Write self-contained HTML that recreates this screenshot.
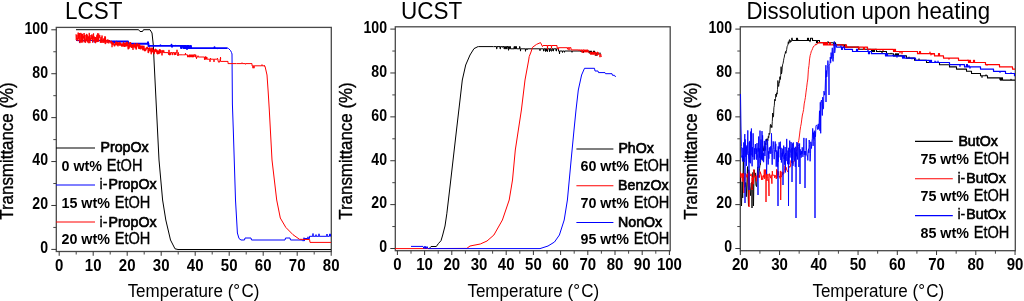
<!DOCTYPE html><html><head><meta charset="utf-8"><style>html,body{margin:0;padding:0;background:#fff;overflow:hidden}svg{display:block;will-change:transform}</style></head><body><svg xmlns="http://www.w3.org/2000/svg" width="1024" height="301" viewBox="0 0 1024 301">
<rect width="1024" height="301" fill="#fff"/>
<rect x="56.3" y="27.4" width="275.0" height="224.1" fill="none" stroke="#484848" stroke-width="1.3"/>
<line x1="51.3" y1="249.4" x2="56.3" y2="249.4" stroke="#333" stroke-width="1"/>
<text transform="translate(48.00,253.20) scale(0.94,1.07)" text-anchor="end" font-size="15" font-weight="bold" font-family="Liberation Sans, sans-serif">0</text>
<line x1="51.3" y1="205.48000000000002" x2="56.3" y2="205.48000000000002" stroke="#333" stroke-width="1"/>
<text transform="translate(48.00,209.28) scale(0.94,1.07)" text-anchor="end" font-size="15" font-weight="bold" font-family="Liberation Sans, sans-serif">20</text>
<line x1="51.3" y1="161.56" x2="56.3" y2="161.56" stroke="#333" stroke-width="1"/>
<text transform="translate(48.00,165.36) scale(0.94,1.07)" text-anchor="end" font-size="15" font-weight="bold" font-family="Liberation Sans, sans-serif">40</text>
<line x1="51.3" y1="117.63999999999999" x2="56.3" y2="117.63999999999999" stroke="#333" stroke-width="1"/>
<text transform="translate(48.00,121.44) scale(0.94,1.07)" text-anchor="end" font-size="15" font-weight="bold" font-family="Liberation Sans, sans-serif">60</text>
<line x1="51.3" y1="73.72" x2="56.3" y2="73.72" stroke="#333" stroke-width="1"/>
<text transform="translate(48.00,77.52) scale(0.94,1.07)" text-anchor="end" font-size="15" font-weight="bold" font-family="Liberation Sans, sans-serif">80</text>
<line x1="51.3" y1="29.799999999999983" x2="56.3" y2="29.799999999999983" stroke="#333" stroke-width="1"/>
<text transform="translate(48.00,33.60) scale(0.94,1.07)" text-anchor="end" font-size="15" font-weight="bold" font-family="Liberation Sans, sans-serif">100</text>
<line x1="53.3" y1="227.44" x2="56.3" y2="227.44" stroke="#444" stroke-width="1"/>
<line x1="53.3" y1="183.51999999999998" x2="56.3" y2="183.51999999999998" stroke="#444" stroke-width="1"/>
<line x1="53.3" y1="139.6" x2="56.3" y2="139.6" stroke="#444" stroke-width="1"/>
<line x1="53.3" y1="95.68" x2="56.3" y2="95.68" stroke="#444" stroke-width="1"/>
<line x1="53.3" y1="51.75999999999999" x2="56.3" y2="51.75999999999999" stroke="#444" stroke-width="1"/>
<line x1="59.20" y1="251.5" x2="59.20" y2="255.8" stroke="#333" stroke-width="1"/>
<text transform="translate(59.20,270.50) scale(1.0,1.07)" text-anchor="middle" font-size="15" font-weight="bold" font-family="Liberation Sans, sans-serif">0</text>
<line x1="93.20" y1="251.5" x2="93.20" y2="255.8" stroke="#333" stroke-width="1"/>
<text transform="translate(93.20,270.50) scale(1.0,1.07)" text-anchor="middle" font-size="15" font-weight="bold" font-family="Liberation Sans, sans-serif">10</text>
<line x1="127.20" y1="251.5" x2="127.20" y2="255.8" stroke="#333" stroke-width="1"/>
<text transform="translate(127.20,270.50) scale(1.0,1.07)" text-anchor="middle" font-size="15" font-weight="bold" font-family="Liberation Sans, sans-serif">20</text>
<line x1="161.20" y1="251.5" x2="161.20" y2="255.8" stroke="#333" stroke-width="1"/>
<text transform="translate(161.20,270.50) scale(1.0,1.07)" text-anchor="middle" font-size="15" font-weight="bold" font-family="Liberation Sans, sans-serif">30</text>
<line x1="195.20" y1="251.5" x2="195.20" y2="255.8" stroke="#333" stroke-width="1"/>
<text transform="translate(195.20,270.50) scale(1.0,1.07)" text-anchor="middle" font-size="15" font-weight="bold" font-family="Liberation Sans, sans-serif">40</text>
<line x1="229.20" y1="251.5" x2="229.20" y2="255.8" stroke="#333" stroke-width="1"/>
<text transform="translate(229.20,270.50) scale(1.0,1.07)" text-anchor="middle" font-size="15" font-weight="bold" font-family="Liberation Sans, sans-serif">50</text>
<line x1="263.20" y1="251.5" x2="263.20" y2="255.8" stroke="#333" stroke-width="1"/>
<text transform="translate(263.20,270.50) scale(1.0,1.07)" text-anchor="middle" font-size="15" font-weight="bold" font-family="Liberation Sans, sans-serif">60</text>
<line x1="297.20" y1="251.5" x2="297.20" y2="255.8" stroke="#333" stroke-width="1"/>
<text transform="translate(297.20,270.50) scale(1.0,1.07)" text-anchor="middle" font-size="15" font-weight="bold" font-family="Liberation Sans, sans-serif">70</text>
<line x1="331.20" y1="251.5" x2="331.20" y2="255.8" stroke="#333" stroke-width="1"/>
<text transform="translate(331.20,270.50) scale(1.0,1.07)" text-anchor="middle" font-size="15" font-weight="bold" font-family="Liberation Sans, sans-serif">80</text>
<line x1="76.20" y1="251.5" x2="76.20" y2="254.5" stroke="#444" stroke-width="1"/>
<line x1="110.20" y1="251.5" x2="110.20" y2="254.5" stroke="#444" stroke-width="1"/>
<line x1="144.20" y1="251.5" x2="144.20" y2="254.5" stroke="#444" stroke-width="1"/>
<line x1="178.20" y1="251.5" x2="178.20" y2="254.5" stroke="#444" stroke-width="1"/>
<line x1="212.20" y1="251.5" x2="212.20" y2="254.5" stroke="#444" stroke-width="1"/>
<line x1="246.20" y1="251.5" x2="246.20" y2="254.5" stroke="#444" stroke-width="1"/>
<line x1="280.20" y1="251.5" x2="280.20" y2="254.5" stroke="#444" stroke-width="1"/>
<line x1="314.20" y1="251.5" x2="314.20" y2="254.5" stroke="#444" stroke-width="1"/>
<g clip-path="url(#c1)">
<path d="M76.0,29.7 L138.6,29.7 L140.0,31.5 L142.5,31.5 L143.5,29.7 L150.0,29.7 L152.0,33.0 L153.3,45.0 L154.0,60.0 L159.0,160.0 L162.6,200.0 L165.8,220.0 L170.5,240.0 L175.0,248.8 L178.0,249.5 L331.0,249.5" fill="none" stroke="#000" stroke-width="1.0" stroke-linejoin="round" />
<path d="M76.0,40.5 L79.3,40.5 L79.5,42.4 L79.7,40.5 L82.8,40.5 L83.0,40.8 L83.2,40.5 L84.8,40.5 L85.0,41.8 L85.2,40.5 L93.8,40.5 L94.0,42.1 L94.2,40.5 L97.3,40.5 L97.5,41.6 L97.7,40.5 L100.3,40.5 L100.5,41.7 L100.7,40.5 L100.8,40.5 L101.0,40.7 L101.2,40.5 L107.8,40.5 L108.0,42.5 L108.2,40.5 L110.0,40.5" fill="none" stroke="#0000ff" stroke-width="1.1" stroke-linejoin="round" />
<path d="M110.0,41.5 L113.8,41.5 L114.0,42.9 L114.2,41.5 L116.3,41.5 L116.5,41.3 L116.7,41.5 L128.0,41.5 L128.0,43.7 L147.8,43.7 L148.0,42.2 L148.2,43.7 L148.5,43.7 L148.5,45.9 L148.8,45.9 L149.0,46.3 L149.2,45.9 L160.3,45.9 L160.5,45.3 L160.7,45.9 L171.3,45.9 L171.5,44.8 L171.7,45.9 L171.8,45.9 L172.0,46.8 L172.2,45.9 L175.3,45.9 L175.5,45.8 L175.7,45.9 L181.0,45.9 L181.0,48.1 L181.5,48.1 L181.5,45.9 L183.5,45.9 L183.5,48.1 L184.0,48.1 L184.0,45.9 L185.0,45.9 L185.0,48.1 L185.5,48.1 L185.5,45.9 L186.0,45.9 L186.0,48.1 L186.8,48.1 L187.0,49.0 L187.2,48.1 L187.0,48.1 L187.0,45.9 L188.0,45.9 L188.0,48.1 L188.5,48.1 L188.5,45.9 L189.0,45.9 L189.0,48.1 L190.5,48.1 L190.5,45.9 L191.0,45.9 L191.0,48.1 L214.3,48.1 L214.5,47.2 L214.7,48.1 L217.3,48.1 L217.5,48.2 L217.7,48.1 L227.5,48.1" fill="none" stroke="#0000ff" stroke-width="1.9" stroke-linejoin="round" />
<path d="M227.5,48.1 L228.5,48.5 L230.5,50.5 L231.5,52.5 L232.0,54.0 L232.4,104.0 L233.3,130.0 L235.5,200.0 L237.4,233.0 L239.0,238.5 L241.0,240.0 L244.5,240.0 L245.0,238.0 L251.0,238.0 L251.5,240.0 L285.0,240.0 L285.5,238.0 L290.0,238.0 L290.5,240.0 L302.0,240.0 L302.5,240.7 L303.8,240.7 L304.0,237.7 L304.2,240.7 L304.5,240.7 L304.5,238.5 L307.8,238.5 L308.0,236.8 L308.2,238.5 L309.5,238.5 L309.5,236.3 L312.8,236.3 L313.0,233.5 L313.2,236.3 L315.8,236.3 L316.0,234.6 L316.2,236.3 L318.8,236.3 L319.0,233.8 L319.2,236.3 L326.8,236.3 L327.0,234.0 L327.2,236.3 L329.5,236.3 L329.5,234.1 L330.5,234.1 L330.5,236.3 L331.0,236.3" fill="none" stroke="#0000ff" stroke-width="1.0" stroke-linejoin="round" />
<path d="M76.0,34.2 L76.2,39.8 L76.4,39.2 L76.7,37.6 L76.9,34.8 L77.1,40.9 L77.3,41.1 L77.5,37.9 L77.8,37.9 L78.0,35.0 L78.2,32.6 L78.4,36.5 L78.6,38.7 L78.9,33.3 L79.1,40.9 L79.3,35.0 L79.5,35.0 L79.7,33.0 L80.0,43.1 L80.2,40.4 L80.4,41.8 L80.6,39.1 L80.8,32.9 L81.1,36.0 L81.3,37.8 L81.5,33.8 L81.7,42.6 L81.9,36.5 L82.2,34.2 L82.4,41.2 L82.6,33.9 L82.8,42.4 L83.0,37.4 L83.3,38.4 L83.5,36.2 L83.7,37.7 L83.9,34.6 L84.1,33.0 L84.4,41.8 L84.6,35.1 L84.8,40.9 L85.0,34.8 L85.2,42.9 L85.5,42.1 L85.7,40.6 L85.9,40.7 L86.1,38.7 L86.3,40.3 L86.6,33.9 L86.8,37.6 L87.0,41.4 L87.2,34.7 L87.4,42.4 L87.7,42.0 L87.9,36.9 L88.1,36.5 L88.3,37.4 L88.5,36.7 L88.8,43.2 L89.0,36.7 L89.2,32.9 L89.4,33.6 L89.6,40.2 L89.9,43.1 L90.1,37.9 L90.3,37.8 L90.5,38.5 L90.7,40.6 L91.0,35.0 L91.2,39.1 L91.4,38.5 L91.6,39.2 L91.8,34.6 L92.1,34.4 L92.3,36.3 L92.5,42.5 L92.7,36.3 L92.9,39.0 L93.2,35.9 L93.4,33.8 L93.6,33.4 L93.8,41.3 L94.0,40.9 L94.3,36.6 L94.5,39.9 L94.7,39.8 L94.9,42.2 L95.1,42.8 L95.4,37.0 L95.6,43.2 L95.8,42.9 L96.0,38.9 L96.2,42.0 L96.5,37.9 L96.7,36.7 L96.9,35.3 L97.1,42.0 L97.3,34.4 L97.6,33.4 L97.8,41.2 L98.0,40.9 L98.2,37.9 L98.4,41.7 L98.7,33.5 L98.9,35.7 L99.1,36.7 L99.3,37.8 L99.5,35.9 L99.8,35.1 L100.0,37.4 L100.2,41.9 L100.4,42.7 L100.6,40.8 L100.9,38.8 L101.1,37.0 L101.3,42.8 L101.5,39.4 L101.7,41.1 L102.0,35.5 L102.2,37.1 L102.4,42.2 L102.6,41.9 L102.8,42.7 L103.1,40.5 L103.3,39.2 L103.5,40.5 L103.7,42.7 L103.9,38.4 L104.2,40.3 L104.4,38.4 L104.6,42.4 L104.8,36.4 L105.0,41.9 L105.3,44.1 L105.5,36.7 L105.7,41.4 L105.9,41.9 L106.1,42.3 L106.4,41.3 L106.6,39.9 L106.8,40.6 L107.0,43.2 L107.2,43.0 L107.5,39.7 L107.7,39.6 L107.9,39.7 L108.1,39.5 L108.3,41.4 L108.6,40.1 L108.8,43.4 L109.0,42.6 L109.2,40.3 L109.4,42.2 L109.7,41.3 L109.9,42.2 L110.1,41.1 L110.3,40.9 L110.5,41.1 L110.8,42.0 L111.0,43.5 L111.2,42.9 L111.4,40.8 L111.6,43.8 L111.9,44.6" fill="none" stroke="#ff0000" stroke-width="1.0" stroke-linejoin="round" />
<path d="M112.0,47.3 L112.2,42.4 L112.5,44.5 L112.8,43.7 L113.0,42.8 L113.2,43.3 L113.5,43.4 L113.8,44.0 L114.0,44.8 L114.2,45.7 L114.5,44.5 L114.8,45.9 L115.0,44.9 L115.2,44.4 L115.5,43.9 L115.8,42.8 L116.0,41.9 L116.2,44.2 L116.5,44.1 L116.8,44.8 L117.0,44.9 L117.2,42.5 L117.5,43.3 L117.8,42.8 L118.0,45.9 L118.2,44.3 L118.5,44.7 L118.8,43.2 L119.0,42.6 L119.2,43.7 L119.5,44.4 L119.8,45.3 L120.0,42.4 L120.2,45.1 L120.5,43.4 L120.8,43.9 L121.0,44.2 L121.2,44.1 L121.5,45.4 L121.8,46.1 L122.0,45.3 L122.2,44.0 L122.5,45.4 L122.8,45.4 L123.0,46.1 L123.2,45.3 L123.5,42.5 L123.8,43.8 L124.0,44.4 L124.2,46.3 L124.5,44.8 L124.8,46.4 L125.0,45.5 L125.2,43.3 L125.5,45.2 L125.8,45.9 L126.0,45.7 L126.2,43.0 L126.5,45.8 L126.8,44.3 L127.0,42.3 L127.2,44.4 L127.5,42.4 L127.8,43.4 L128.0,47.4 L128.2,48.9 L128.5,46.9 L128.8,46.0 L129.0,48.2 L129.2,45.9 L129.5,44.0 L129.8,42.6 L130.0,46.8 L130.2,42.6 L130.5,42.7 L130.8,44.6 L131.0,45.7 L131.2,44.4 L131.5,47.3 L131.8,45.6 L132.0,46.1 L132.2,46.5 L132.5,45.0 L132.8,46.2 L133.0,49.4 L133.2,44.6 L133.5,46.2 L133.8,46.8 L134.0,45.3 L134.2,46.0 L134.5,43.6 L134.8,45.5 L135.0,46.3 L135.2,47.9 L135.5,47.7 L135.8,45.5 L136.0,44.7 L136.2,49.1 L136.5,47.8 L136.8,43.6 L137.0,46.0 L137.2,45.2 L137.5,45.7 L137.8,44.0 L138.0,46.0 L138.2,45.9 L138.5,46.4 L138.8,48.3 L139.0,47.1 L139.2,45.0 L139.5,44.3 L139.8,46.1 L140.0,48.6 L140.2,48.4 L140.5,46.2 L140.8,48.9 L141.0,47.9 L141.2,46.4 L141.5,48.0 L141.8,47.3 L142.0,45.9 L142.2,47.0 L142.5,47.9 L142.8,49.7 L143.0,46.3 L143.2,48.3 L143.5,48.0 L143.8,48.0 L144.0,46.3 L144.2,50.1 L144.5,50.2 L144.8,50.8 L145.0,49.2 L145.2,50.7 L145.5,49.4 L145.8,50.2 L146.0,48.3 L146.2,49.2 L146.5,48.4 L146.8,47.4 L147.0,48.4 L147.2,47.4 L147.5,47.5 L147.8,48.7 L148.0,48.5 L148.2,52.5 L148.5,52.2 L148.8,51.2 L149.0,50.9 L149.2,48.4 L149.5,50.2 L149.8,47.7 L150.0,49.0 L150.2,49.3 L150.5,49.5 L150.8,51.4 L151.0,48.9 L151.2,53.7 L151.5,49.4 L151.8,51.5 L152.0,47.9 L152.2,51.7 L152.5,48.5 L152.8,50.7 L153.0,50.4 L153.2,51.7 L153.5,51.4 L153.8,51.1 L154.0,50.3 L154.2,53.6 L154.5,49.9 L154.8,50.7 L155.0,50.0 L155.2,51.0 L155.5,49.3 L155.8,50.2 L156.0,51.6 L156.2,50.0 L156.5,51.6 L156.8,50.1 L157.0,53.2 L157.2,50.9 L157.5,53.7 L157.8,51.9 L158.0,51.0 L158.2,52.6 L158.5,53.0 L158.8,53.6 L159.0,53.4 L159.2,52.7 L159.5,49.6 L159.8,52.8 L160.0,51.3" fill="none" stroke="#ff0000" stroke-width="1.4" stroke-linejoin="round" />
<path d="M160.0,51.3 L160.0,52.6 L160.3,52.6 L160.5,49.7 L160.7,52.6 L160.8,52.6 L161.0,50.3 L161.2,52.6 L161.8,52.6 L162.0,55.4 L162.2,52.6 L162.0,52.6 L162.0,50.4 L162.5,50.4 L162.5,52.6 L163.5,52.6 L163.5,50.4 L164.0,50.4 L164.0,52.6 L168.3,52.6 L168.5,54.6 L168.7,52.6 L168.8,52.6 L169.0,49.9 L169.2,52.6 L169.3,52.6 L169.5,55.2 L169.7,52.6 L170.5,52.6 L170.5,54.8 L171.0,54.8 L171.0,52.6 L172.5,52.6 L172.5,54.8 L173.0,54.8 L173.0,52.6 L174.5,52.6 L174.5,54.8 L175.0,54.8 L175.0,52.6 L175.3,52.6 L175.5,55.0 L175.7,52.6 L176.8,52.6 L177.0,49.8 L177.2,52.6 L177.0,52.6 L177.0,54.8 L177.8,54.8 L178.0,56.0 L178.2,54.8 L178.0,54.8 L178.0,52.6 L178.5,52.6 L178.5,54.8 L182.8,54.8 L183.0,54.8 L183.2,54.8 L185.3,54.8 L185.5,53.1 L185.7,54.8 L187.5,54.8 L187.5,57.0 L188.3,57.0 L188.5,56.3 L188.7,57.0 L188.8,57.0 L189.0,55.2 L189.2,57.0 L189.0,57.0 L189.0,54.8 L189.5,54.8 L189.5,57.0 L190.3,57.0 L190.5,55.4 L190.7,57.0 L190.5,57.0 L190.5,54.8 L190.8,54.8 L191.0,55.8 L191.2,54.8 L191.5,54.8 L191.5,57.0 L191.8,57.0 L192.0,57.0 L192.2,57.0 L192.3,57.0 L192.5,56.9 L192.7,57.0 L192.5,57.0 L192.5,54.8 L193.5,54.8 L193.5,57.0 L194.0,57.0 L194.0,54.8 L195.0,54.8 L195.0,57.0 L195.5,57.0 L195.5,54.8 L196.0,54.8 L196.0,57.0 L196.3,57.0 L196.5,58.8 L196.7,57.0 L197.8,57.0 L198.0,55.7 L198.2,57.0 L204.3,57.0 L204.5,59.7 L204.7,57.0 L205.0,57.0 L205.0,59.2 L205.3,59.2 L205.5,56.6 L205.7,59.2 L205.5,59.2 L205.5,57.0 L206.0,57.0 L206.0,59.2 L206.5,59.2 L206.5,57.0 L207.0,57.0 L207.0,59.2 L209.8,59.2 L210.0,61.8 L210.2,59.2 L210.3,59.2 L210.5,58.1 L210.7,59.2 L213.8,59.2 L214.0,61.9 L214.2,59.2 L217.3,59.2 L217.5,58.2 L217.7,59.2 L218.0,59.2 L218.0,61.4 L218.8,61.4 L219.0,62.5 L219.2,61.4 L220.0,61.4 L220.0,59.2 L220.3,59.2 L220.5,57.1 L220.7,59.2 L220.5,59.2 L220.5,61.4 L228.0,61.4 L228.0,63.6 L236.3,63.6 L236.5,63.6 L236.7,63.6 L241.8,63.6 L242.0,62.7 L242.2,63.6 L245.3,63.6 L245.5,64.3 L245.7,63.6 L252.0,63.6 L252.0,65.8 L252.8,65.8 L253.0,68.2 L253.2,65.8 L253.8,65.8 L254.0,68.2 L254.2,65.8 L261.8,65.8 L262.0,64.6 L262.2,65.8 L264.3,65.8 L264.5,65.7 L264.7,65.8 L264.0,65.8 L265.0,66.2 L267.0,75.0 L268.2,92.0 L269.3,110.0 L272.0,160.0 L276.7,200.0 L280.3,218.0 L285.8,227.4 L293.0,234.7 L299.5,239.3 L309.6,239.5 L310.0,242.4 L331.0,242.4" fill="none" stroke="#ff0000" stroke-width="1.0" stroke-linejoin="round" />
</g>
<line x1="56" y1="148.0" x2="95" y2="148.0" stroke="#000" stroke-width="1.15"/>
<text transform="translate(100.50,152.00) scale(1.0,1.07)" font-size="14.2" stroke="#000" stroke-width="0.65" font-family="Liberation Sans, sans-serif">PropOx</text>
<text transform="translate(61.5,171.3) scale(1,1.07)" font-size="14.3" font-family="Liberation Sans, sans-serif"><tspan font-weight="bold">0 wt%</tspan><tspan dx="0.7" font-size="14.6" stroke="#000" stroke-width="0.3"> EtOH</tspan></text>
<line x1="56" y1="185.0" x2="95" y2="185.0" stroke="#0000ff" stroke-width="1.15"/>
<text transform="translate(99.5,189.3) scale(1,1.07)" font-size="14.2" stroke="#000" stroke-width="0.65" font-family="Liberation Sans, sans-serif"><tspan font-size="14.3" stroke-width="0.35">i-</tspan><tspan dx="1.0">PropOx</tspan></text>
<text transform="translate(61.5,207.5) scale(1,1.07)" font-size="14.3" font-family="Liberation Sans, sans-serif"><tspan font-weight="bold">15 wt%</tspan><tspan dx="0.7" font-size="14.6" stroke="#000" stroke-width="0.3"> EtOH</tspan></text>
<line x1="56" y1="222" x2="95" y2="222" stroke="#ff0000" stroke-width="1.15"/>
<text transform="translate(99.5,226.9) scale(1,1.07)" font-size="14.2" stroke="#000" stroke-width="0.65" font-family="Liberation Sans, sans-serif"><tspan font-size="14.3" stroke-width="0.35">i-</tspan><tspan dx="1.0">PropOx</tspan></text>
<text transform="translate(61.5,244.2) scale(1,1.07)" font-size="14.3" font-family="Liberation Sans, sans-serif"><tspan font-weight="bold">20 wt%</tspan><tspan dx="0.7" font-size="14.6" stroke="#000" stroke-width="0.3"> EtOH</tspan></text>
<text transform="translate(65.00,19.10) scale(1.0,1.07)" font-size="22.5" font-family="Liberation Sans, sans-serif">LCST</text>
<text transform="translate(193.50,296.70) scale(1.0,1.04)" text-anchor="middle" font-size="17" font-family="Liberation Sans, sans-serif">Temperature (°<tspan dx="1.3">C</tspan>)</text>
<text transform="translate(13.00,151.00) rotate(-90) scale(1.0,1.07)" text-anchor="middle" font-size="16.9" stroke="#000" stroke-width="0.35" font-family="Liberation Sans, sans-serif">Transmittance (%)</text>
<rect x="395.3" y="26.8" width="274.90000000000003" height="223.89999999999998" fill="none" stroke="#484848" stroke-width="1.3"/>
<line x1="390.3" y1="248.5" x2="395.3" y2="248.5" stroke="#333" stroke-width="1"/>
<text transform="translate(387.00,252.30) scale(0.94,1.07)" text-anchor="end" font-size="15" font-weight="bold" font-family="Liberation Sans, sans-serif">0</text>
<line x1="390.3" y1="204.62" x2="395.3" y2="204.62" stroke="#333" stroke-width="1"/>
<text transform="translate(387.00,208.42) scale(0.94,1.07)" text-anchor="end" font-size="15" font-weight="bold" font-family="Liberation Sans, sans-serif">20</text>
<line x1="390.3" y1="160.74" x2="395.3" y2="160.74" stroke="#333" stroke-width="1"/>
<text transform="translate(387.00,164.54) scale(0.94,1.07)" text-anchor="end" font-size="15" font-weight="bold" font-family="Liberation Sans, sans-serif">40</text>
<line x1="390.3" y1="116.86000000000001" x2="395.3" y2="116.86000000000001" stroke="#333" stroke-width="1"/>
<text transform="translate(387.00,120.66) scale(0.94,1.07)" text-anchor="end" font-size="15" font-weight="bold" font-family="Liberation Sans, sans-serif">60</text>
<line x1="390.3" y1="72.98000000000002" x2="395.3" y2="72.98000000000002" stroke="#333" stroke-width="1"/>
<text transform="translate(387.00,76.78) scale(0.94,1.07)" text-anchor="end" font-size="15" font-weight="bold" font-family="Liberation Sans, sans-serif">80</text>
<line x1="390.3" y1="29.099999999999994" x2="395.3" y2="29.099999999999994" stroke="#333" stroke-width="1"/>
<text transform="translate(387.00,32.90) scale(0.94,1.07)" text-anchor="end" font-size="15" font-weight="bold" font-family="Liberation Sans, sans-serif">100</text>
<line x1="392.3" y1="226.56" x2="395.3" y2="226.56" stroke="#444" stroke-width="1"/>
<line x1="392.3" y1="182.68" x2="395.3" y2="182.68" stroke="#444" stroke-width="1"/>
<line x1="392.3" y1="138.8" x2="395.3" y2="138.8" stroke="#444" stroke-width="1"/>
<line x1="392.3" y1="94.92000000000002" x2="395.3" y2="94.92000000000002" stroke="#444" stroke-width="1"/>
<line x1="392.3" y1="51.03999999999999" x2="395.3" y2="51.03999999999999" stroke="#444" stroke-width="1"/>
<line x1="397.40" y1="250.7" x2="397.40" y2="255.0" stroke="#333" stroke-width="1"/>
<text transform="translate(397.40,269.70) scale(1.0,1.07)" text-anchor="middle" font-size="15" font-weight="bold" font-family="Liberation Sans, sans-serif">0</text>
<line x1="424.60" y1="250.7" x2="424.60" y2="255.0" stroke="#333" stroke-width="1"/>
<text transform="translate(424.60,269.70) scale(1.0,1.07)" text-anchor="middle" font-size="15" font-weight="bold" font-family="Liberation Sans, sans-serif">10</text>
<line x1="451.80" y1="250.7" x2="451.80" y2="255.0" stroke="#333" stroke-width="1"/>
<text transform="translate(451.80,269.70) scale(1.0,1.07)" text-anchor="middle" font-size="15" font-weight="bold" font-family="Liberation Sans, sans-serif">20</text>
<line x1="479.00" y1="250.7" x2="479.00" y2="255.0" stroke="#333" stroke-width="1"/>
<text transform="translate(479.00,269.70) scale(1.0,1.07)" text-anchor="middle" font-size="15" font-weight="bold" font-family="Liberation Sans, sans-serif">30</text>
<line x1="506.20" y1="250.7" x2="506.20" y2="255.0" stroke="#333" stroke-width="1"/>
<text transform="translate(506.20,269.70) scale(1.0,1.07)" text-anchor="middle" font-size="15" font-weight="bold" font-family="Liberation Sans, sans-serif">40</text>
<line x1="533.40" y1="250.7" x2="533.40" y2="255.0" stroke="#333" stroke-width="1"/>
<text transform="translate(533.40,269.70) scale(1.0,1.07)" text-anchor="middle" font-size="15" font-weight="bold" font-family="Liberation Sans, sans-serif">50</text>
<line x1="560.60" y1="250.7" x2="560.60" y2="255.0" stroke="#333" stroke-width="1"/>
<text transform="translate(560.60,269.70) scale(1.0,1.07)" text-anchor="middle" font-size="15" font-weight="bold" font-family="Liberation Sans, sans-serif">60</text>
<line x1="587.80" y1="250.7" x2="587.80" y2="255.0" stroke="#333" stroke-width="1"/>
<text transform="translate(587.80,269.70) scale(1.0,1.07)" text-anchor="middle" font-size="15" font-weight="bold" font-family="Liberation Sans, sans-serif">70</text>
<line x1="615.00" y1="250.7" x2="615.00" y2="255.0" stroke="#333" stroke-width="1"/>
<text transform="translate(615.00,269.70) scale(1.0,1.07)" text-anchor="middle" font-size="15" font-weight="bold" font-family="Liberation Sans, sans-serif">80</text>
<line x1="642.20" y1="250.7" x2="642.20" y2="255.0" stroke="#333" stroke-width="1"/>
<text transform="translate(642.20,269.70) scale(1.0,1.07)" text-anchor="middle" font-size="15" font-weight="bold" font-family="Liberation Sans, sans-serif">90</text>
<line x1="669.40" y1="250.7" x2="669.40" y2="255.0" stroke="#333" stroke-width="1"/>
<text transform="translate(669.40,269.70) scale(1.0,1.07)" text-anchor="middle" font-size="15" font-weight="bold" font-family="Liberation Sans, sans-serif">100</text>
<line x1="411.00" y1="250.7" x2="411.00" y2="253.7" stroke="#444" stroke-width="1"/>
<line x1="438.20" y1="250.7" x2="438.20" y2="253.7" stroke="#444" stroke-width="1"/>
<line x1="465.40" y1="250.7" x2="465.40" y2="253.7" stroke="#444" stroke-width="1"/>
<line x1="492.60" y1="250.7" x2="492.60" y2="253.7" stroke="#444" stroke-width="1"/>
<line x1="519.80" y1="250.7" x2="519.80" y2="253.7" stroke="#444" stroke-width="1"/>
<line x1="547.00" y1="250.7" x2="547.00" y2="253.7" stroke="#444" stroke-width="1"/>
<line x1="574.20" y1="250.7" x2="574.20" y2="253.7" stroke="#444" stroke-width="1"/>
<line x1="601.40" y1="250.7" x2="601.40" y2="253.7" stroke="#444" stroke-width="1"/>
<line x1="628.60" y1="250.7" x2="628.60" y2="253.7" stroke="#444" stroke-width="1"/>
<line x1="655.80" y1="250.7" x2="655.80" y2="253.7" stroke="#444" stroke-width="1"/>
<g clip-path="url(#c2)">
<path d="M429.7,248.0 L431.0,246.5 L436.3,246.5 L438.3,243.7 L441.0,240.7 L442.7,235.0 L445.0,226.0 L446.8,213.8 L450.2,185.0 L456.5,130.0 L460.0,100.0 L462.3,80.0 L465.7,65.0 L470.0,55.0 L474.0,48.6 L478.0,46.6 L478.5,46.6 L493.3,46.6 L493.5,46.7 L493.7,46.6 L496.5,46.6 L496.5,48.8 L497.0,48.8 L497.0,46.6 L500.0,46.6 L500.0,48.8 L500.5,48.8 L500.5,46.6 L501.8,46.6 L502.0,47.1 L502.2,46.6 L502.3,46.6 L502.5,47.3 L502.7,46.6 L504.0,46.6 L504.0,48.8 L504.5,48.8 L504.5,46.6 L505.5,46.6 L505.5,48.8 L506.0,48.8 L506.0,46.6 L506.5,46.6 L506.5,48.8 L507.0,48.8 L507.0,46.6 L508.0,46.6 L508.0,48.8 L508.3,48.8 L508.5,50.3 L508.7,48.8 L508.5,48.8 L508.5,46.6 L509.5,46.6 L509.5,48.8 L510.0,48.8 L510.0,46.6 L510.5,46.6 L510.5,48.8 L514.0,48.8 L514.0,46.6 L514.5,46.6 L514.5,48.8 L515.0,48.8 L515.0,46.6 L515.5,46.6 L515.5,48.8 L516.0,48.8 L516.0,46.6 L516.5,46.6 L516.5,48.8 L519.5,48.8 L519.5,46.6 L520.0,46.6 L520.0,48.8 L520.3,48.8 L520.5,51.1 L520.7,48.8 L525.3,48.8 L525.5,51.3 L525.7,48.8 L526.8,48.8 L527.0,49.9 L527.2,48.8 L539.8,48.8 L540.0,50.7 L540.2,48.8 L543.5,48.8 L543.5,51.0 L544.0,51.0 L544.0,48.8 L545.3,48.8 L545.5,51.5 L545.7,48.8 L545.5,48.8 L545.5,51.0 L546.0,51.0 L546.0,48.8 L546.5,48.8 L546.5,51.0 L547.0,51.0 L547.0,48.8 L547.3,48.8 L547.5,51.6 L547.7,48.8 L549.3,48.8 L549.5,51.6 L549.7,48.8 L549.5,48.8 L549.5,51.0 L550.0,51.0 L550.0,48.8 L551.0,48.8 L551.0,51.0 L552.0,51.0 L552.0,48.8 L553.0,48.8 L553.0,51.0 L553.5,51.0 L553.5,48.8 L556.0,48.8 L556.0,51.0 L556.5,51.0 L556.5,48.8 L558.5,48.8 L558.5,51.0 L559.3,51.0 L559.5,54.0 L559.7,51.0 L562.3,51.0 L562.5,52.5 L562.7,51.0 L564.3,51.0 L564.5,52.3 L564.7,51.0 L571.8,51.0 L572.0,52.3 L572.2,51.0 L580.3,51.0 L580.5,51.4 L580.7,51.0 L581.8,51.0 L582.0,52.1 L582.2,51.0 L583.3,51.0 L583.5,52.7 L583.7,51.0 L589.0,51.0 L589.0,53.2 L589.5,53.2 L589.5,51.0 L590.5,51.0 L590.5,53.2 L590.8,53.2 L591.0,53.3 L591.2,53.2 L591.0,53.2 L591.0,51.0 L591.3,51.0 L591.5,53.9 L591.7,51.0 L591.5,51.0 L591.5,53.2 L593.5,53.2 L593.5,51.0 L594.3,51.0 L594.5,52.4 L594.7,51.0 L594.5,51.0 L594.5,53.2 L595.8,53.2 L596.0,55.9 L596.2,53.2 L599.8,53.2 L600.0,53.4 L600.2,53.2 L601.0,53.2" fill="none" stroke="#000" stroke-width="1.0" stroke-linejoin="round" />
<path d="M395.0,248.6 L423.0,248.6 L466.8,248.4 L470.0,246.0 L480.3,244.0 L487.0,241.0 L493.9,235.0 L502.4,220.0 L509.2,200.0 L512.5,180.0 L515.3,150.0 L521.4,110.0 L525.0,80.0 L528.7,60.0 L529.2,56.6 L531.0,52.0 L532.5,47.3 L536.5,44.4 L540.5,42.6 L542.5,46.6 L543.0,45.5 L547.3,45.5 L547.5,49.3 L547.7,45.5 L551.3,45.5 L551.5,48.4 L551.7,45.5 L557.0,45.5 L557.0,47.7 L557.3,47.7 L557.5,48.5 L557.7,47.7 L558.3,47.7 L558.5,49.3 L558.7,47.7 L567.3,47.7 L567.5,49.2 L567.7,47.7 L568.8,47.7 L569.0,50.2 L569.2,47.7 L571.0,47.7 L571.0,49.9 L578.8,49.9 L579.0,50.7 L579.2,49.9 L580.3,49.9 L580.5,50.8 L580.7,49.9 L581.8,49.9 L582.0,52.4 L582.2,49.9 L582.5,49.9 L582.5,52.1 L582.8,52.1 L583.0,52.8 L583.2,52.1 L583.0,52.1 L583.0,49.9 L584.3,49.9 L584.5,51.4 L584.7,49.9 L584.5,49.9 L584.5,52.1 L585.5,52.1 L585.5,49.9 L586.5,49.9 L586.5,52.1 L587.0,52.1 L587.0,49.9 L587.3,49.9 L587.5,52.2 L587.7,49.9 L588.0,49.9 L588.0,52.1 L590.3,52.1 L590.5,53.7 L590.7,52.1 L590.8,52.1 L591.0,54.9 L591.2,52.1 L592.0,52.1 L592.0,54.3 L592.5,54.3 L592.5,52.1 L592.8,52.1 L593.0,54.1 L593.2,52.1 L593.0,52.1 L593.0,54.3 L593.3,54.3 L593.5,54.5 L593.7,54.3 L593.5,54.3 L593.5,52.1 L593.8,52.1 L594.0,53.7 L594.2,52.1 L594.8,52.1 L595.0,55.3 L595.2,52.1 L595.5,52.1 L595.5,54.3 L597.0,54.3 L597.0,52.1 L597.3,52.1 L597.5,55.5 L597.7,52.1 L598.0,52.1 L598.0,54.3 L599.8,54.3 L600.0,57.2 L600.2,54.3 L601.0,54.3 L601.0,56.5 L601.6,56.5" fill="none" stroke="#ff0000" stroke-width="1.0" stroke-linejoin="round" />
<path d="M411.0,246.4 L423.0,246.4 L424.0,248.6 L425.0,246.0 L426.0,249.0 L427.0,246.5 L428.0,248.6 L540.0,248.6 L548.0,246.0 L554.5,242.0 L559.4,235.0 L564.2,220.0 L567.4,200.0 L571.6,155.0 L574.0,130.0 L576.0,110.0 L578.3,90.0 L581.6,75.0 L584.5,68.3 L594.5,68.3 L595.0,71.0 L598.0,71.0 L598.5,72.6 L605.0,72.6 L605.5,73.7 L612.0,73.7 L612.5,75.3 L614.5,75.3 L615.6,77.0" fill="none" stroke="#0000ff" stroke-width="1.0" stroke-linejoin="round" />
</g>
<line x1="576.4" y1="149.0" x2="613.4" y2="149.0" stroke="#000" stroke-width="1.15"/>
<text transform="translate(618.40,152.80) scale(1.0,1.07)" font-size="14.2" stroke="#000" stroke-width="0.65" font-family="Liberation Sans, sans-serif">PhOx</text>
<text transform="translate(580.5,171.2) scale(1,1.07)" font-size="14.3" font-family="Liberation Sans, sans-serif"><tspan font-weight="bold">60 wt%</tspan><tspan dx="0.7" font-size="14.6" stroke="#000" stroke-width="0.3"> EtOH</tspan></text>
<line x1="576.4" y1="185.7" x2="613.4" y2="185.7" stroke="#ff0000" stroke-width="1.15"/>
<text transform="translate(618.10,189.50) scale(1.0,1.07)" font-size="14.2" stroke="#000" stroke-width="0.65" font-family="Liberation Sans, sans-serif">BenzOx</text>
<text transform="translate(580.5,208) scale(1,1.07)" font-size="14.3" font-family="Liberation Sans, sans-serif"><tspan font-weight="bold">70 wt%</tspan><tspan dx="0.7" font-size="14.6" stroke="#000" stroke-width="0.3"> EtOH</tspan></text>
<line x1="576.4" y1="222.5" x2="613.4" y2="222.5" stroke="#0000ff" stroke-width="1.15"/>
<text transform="translate(618.00,226.90) scale(1.0,1.07)" font-size="14.2" stroke="#000" stroke-width="0.65" font-family="Liberation Sans, sans-serif">NonOx</text>
<text transform="translate(580.5,244.4) scale(1,1.07)" font-size="14.3" font-family="Liberation Sans, sans-serif"><tspan font-weight="bold">95 wt%</tspan><tspan dx="0.7" font-size="14.6" stroke="#000" stroke-width="0.3"> EtOH</tspan></text>
<text transform="translate(401.00,19.10) scale(1.0,1.07)" font-size="22.5" font-family="Liberation Sans, sans-serif">UCST</text>
<text transform="translate(533.30,296.70) scale(1.0,1.04)" text-anchor="middle" font-size="17" font-family="Liberation Sans, sans-serif">Temperature (°<tspan dx="1.3">C</tspan>)</text>
<text transform="translate(352.00,151.00) rotate(-90) scale(1.0,1.07)" text-anchor="middle" font-size="16.9" stroke="#000" stroke-width="0.35" font-family="Liberation Sans, sans-serif">Transmittance (%)</text>
<rect x="740.3" y="26.8" width="275.0" height="223.89999999999998" fill="none" stroke="#484848" stroke-width="1.3"/>
<line x1="735.3" y1="248.5" x2="740.3" y2="248.5" stroke="#333" stroke-width="1"/>
<text transform="translate(732.00,252.30) scale(0.94,1.07)" text-anchor="end" font-size="15" font-weight="bold" font-family="Liberation Sans, sans-serif">0</text>
<line x1="735.3" y1="204.62" x2="740.3" y2="204.62" stroke="#333" stroke-width="1"/>
<text transform="translate(732.00,208.42) scale(0.94,1.07)" text-anchor="end" font-size="15" font-weight="bold" font-family="Liberation Sans, sans-serif">20</text>
<line x1="735.3" y1="160.74" x2="740.3" y2="160.74" stroke="#333" stroke-width="1"/>
<text transform="translate(732.00,164.54) scale(0.94,1.07)" text-anchor="end" font-size="15" font-weight="bold" font-family="Liberation Sans, sans-serif">40</text>
<line x1="735.3" y1="116.86000000000001" x2="740.3" y2="116.86000000000001" stroke="#333" stroke-width="1"/>
<text transform="translate(732.00,120.66) scale(0.94,1.07)" text-anchor="end" font-size="15" font-weight="bold" font-family="Liberation Sans, sans-serif">60</text>
<line x1="735.3" y1="72.98000000000002" x2="740.3" y2="72.98000000000002" stroke="#333" stroke-width="1"/>
<text transform="translate(732.00,76.78) scale(0.94,1.07)" text-anchor="end" font-size="15" font-weight="bold" font-family="Liberation Sans, sans-serif">80</text>
<line x1="735.3" y1="29.099999999999994" x2="740.3" y2="29.099999999999994" stroke="#333" stroke-width="1"/>
<text transform="translate(732.00,32.90) scale(0.94,1.07)" text-anchor="end" font-size="15" font-weight="bold" font-family="Liberation Sans, sans-serif">100</text>
<line x1="737.3" y1="226.56" x2="740.3" y2="226.56" stroke="#444" stroke-width="1"/>
<line x1="737.3" y1="182.68" x2="740.3" y2="182.68" stroke="#444" stroke-width="1"/>
<line x1="737.3" y1="138.8" x2="740.3" y2="138.8" stroke="#444" stroke-width="1"/>
<line x1="737.3" y1="94.92000000000002" x2="740.3" y2="94.92000000000002" stroke="#444" stroke-width="1"/>
<line x1="737.3" y1="51.03999999999999" x2="740.3" y2="51.03999999999999" stroke="#444" stroke-width="1"/>
<line x1="740.30" y1="250.7" x2="740.30" y2="255.0" stroke="#333" stroke-width="1"/>
<text transform="translate(740.30,269.70) scale(1.0,1.07)" text-anchor="middle" font-size="15" font-weight="bold" font-family="Liberation Sans, sans-serif">20</text>
<line x1="779.55" y1="250.7" x2="779.55" y2="255.0" stroke="#333" stroke-width="1"/>
<text transform="translate(779.55,269.70) scale(1.0,1.07)" text-anchor="middle" font-size="15" font-weight="bold" font-family="Liberation Sans, sans-serif">30</text>
<line x1="818.80" y1="250.7" x2="818.80" y2="255.0" stroke="#333" stroke-width="1"/>
<text transform="translate(818.80,269.70) scale(1.0,1.07)" text-anchor="middle" font-size="15" font-weight="bold" font-family="Liberation Sans, sans-serif">40</text>
<line x1="858.05" y1="250.7" x2="858.05" y2="255.0" stroke="#333" stroke-width="1"/>
<text transform="translate(858.05,269.70) scale(1.0,1.07)" text-anchor="middle" font-size="15" font-weight="bold" font-family="Liberation Sans, sans-serif">50</text>
<line x1="897.30" y1="250.7" x2="897.30" y2="255.0" stroke="#333" stroke-width="1"/>
<text transform="translate(897.30,269.70) scale(1.0,1.07)" text-anchor="middle" font-size="15" font-weight="bold" font-family="Liberation Sans, sans-serif">60</text>
<line x1="936.55" y1="250.7" x2="936.55" y2="255.0" stroke="#333" stroke-width="1"/>
<text transform="translate(936.55,269.70) scale(1.0,1.07)" text-anchor="middle" font-size="15" font-weight="bold" font-family="Liberation Sans, sans-serif">70</text>
<line x1="975.80" y1="250.7" x2="975.80" y2="255.0" stroke="#333" stroke-width="1"/>
<text transform="translate(975.80,269.70) scale(1.0,1.07)" text-anchor="middle" font-size="15" font-weight="bold" font-family="Liberation Sans, sans-serif">80</text>
<line x1="1015.05" y1="250.7" x2="1015.05" y2="255.0" stroke="#333" stroke-width="1"/>
<text transform="translate(1015.05,269.70) scale(1.0,1.07)" text-anchor="middle" font-size="15" font-weight="bold" font-family="Liberation Sans, sans-serif">90</text>
<line x1="759.92" y1="250.7" x2="759.92" y2="253.7" stroke="#444" stroke-width="1"/>
<line x1="799.17" y1="250.7" x2="799.17" y2="253.7" stroke="#444" stroke-width="1"/>
<line x1="838.42" y1="250.7" x2="838.42" y2="253.7" stroke="#444" stroke-width="1"/>
<line x1="877.67" y1="250.7" x2="877.67" y2="253.7" stroke="#444" stroke-width="1"/>
<line x1="916.92" y1="250.7" x2="916.92" y2="253.7" stroke="#444" stroke-width="1"/>
<line x1="956.17" y1="250.7" x2="956.17" y2="253.7" stroke="#444" stroke-width="1"/>
<line x1="995.42" y1="250.7" x2="995.42" y2="253.7" stroke="#444" stroke-width="1"/>
<g clip-path="url(#c3)">
<path d="M740.3,173.2 L740.9,193.7 L741.5,206.0 L742.1,181.7 L742.7,197.9 L743.3,156.0 L743.9,179.4 L744.5,187.3 L745.1,186.8 L745.7,182.4 L746.3,196.7 L746.9,182.6 L747.5,166.6 L748.1,195.1 L748.5,206.0 L748.8,180.3 L748.7,169.8 L749.3,185.1 L749.9,188.8 L750.5,195.6 L751.1,183.0 L751.7,182.3 L752.0,208.0 L752.3,182.9 L752.3,189.0 L752.9,172.4 L753.5,206.0 L754.1,169.8 L754.7,175.7 L755.3,172.9 L755.9,185.0 L756.5,186.6 L757.1,178.9 L757.7,166.9 L758.3,177.0 L758.9,174.8 L759.5,168.8 L759.9,165.5 L760.3,165.2 L760.7,160.8 L761.1,156.6 L761.5,157.4 L761.9,156.6 L762.3,150.8 L762.7,147.3 L763.1,147.9 L763.5,150.8 L763.9,147.5 L764.3,145.7 L764.7,150.8 L765.1,145.5 L765.5,142.9 L765.9,144.9 L766.3,139.1 L766.7,141.2 L767.1,138.6 L767.5,139.8 L767.9,140.6 L768.3,136.4 L768.7,137.7 L769.1,133.2 L769.5,134.4 L769.9,133.2 L770.3,124.9 L770.7,124.3 L771.1,127.5 L771.5,125.5 L771.9,127.5 L772.3,121.5 L772.7,113.0 L773.1,117.2 L773.5,116.5 L773.9,107.6 L774.3,105.7 L774.7,99.3 L775.1,101.0 L775.5,98.6 L775.9,94.0 L776.3,96.7 L776.7,92.8 L777.1,94.2 L777.5,89.5 L777.9,80.5 L778.3,86.2 L778.7,86.5 L779.1,82.1 L779.5,82.5 L779.9,76.7 L780.3,79.5 L780.7,75.6 L781.1,66.7 L781.5,73.9 L781.9,71.7 L782.3,67.2 L782.7,64.2 L783.1,63.3 L783.5,60.8 L783.9,58.4 L784.3,57.2 L784.7,54.4 L785.1,54.1 L785.5,51.5 L785.9,53.2 L786.3,51.1 L786.7,49.4 L787.1,46.6 L787.5,45.6 L787.9,45.3 L788.3,41.8 L788.7,43.7 L789.1,40.9 L789.5,39.6 L789.9,42.7 L790.3,42.2 L790.7,40.4 L791.1,41.7 L791.5,40.7 L791.9,37.8" fill="none" stroke="#000" stroke-width="0.9" stroke-linejoin="round" />
<path d="M791.9,37.8 L792.5,40.5 L796.5,40.5 L796.5,38.3 L797.5,38.3 L797.5,40.5 L797.8,40.5 L798.0,39.9 L798.2,40.5 L807.5,40.5 L807.5,38.3 L808.5,38.3 L808.5,40.5 L809.8,40.5 L810.0,41.6 L810.2,40.5 L810.5,40.5 L810.5,38.3 L812.5,38.3 L812.5,40.5 L816.5,40.5 L816.5,42.7 L817.5,42.7 L817.5,40.5 L819.5,40.5 L819.5,42.7 L827.8,42.7 L828.0,41.6 L828.2,42.7 L833.5,42.7 L833.5,44.9 L834.5,44.9 L834.5,42.7 L835.5,42.7 L835.5,44.9 L843.5,44.9 L843.5,47.1 L844.5,47.1 L844.5,44.9 L845.5,44.9 L845.5,47.1 L857.8,47.1 L858.0,46.9 L858.2,47.1 L858.5,47.1 L858.5,49.3 L871.5,49.3 L871.5,51.5 L872.5,51.5 L872.5,49.3 L873.5,49.3 L873.5,51.5 L874.5,51.5 L874.5,49.3 L876.5,49.3 L876.5,51.5 L881.8,51.5 L882.0,53.3 L882.2,51.5 L886.5,51.5 L886.5,53.7 L890.8,53.7 L891.0,53.3 L891.2,53.7 L892.8,53.7 L893.0,53.8 L893.2,53.7 L893.5,53.7 L893.5,55.9 L894.8,55.9 L895.0,54.6 L895.2,55.9 L895.5,55.9 L895.5,53.7 L896.5,53.7 L896.5,55.9 L897.5,55.9 L897.5,53.7 L898.5,53.7 L898.5,55.9 L900.8,55.9 L901.0,55.2 L901.2,55.9 L906.5,55.9 L906.5,58.1 L908.8,58.1 L909.0,57.1 L909.2,58.1 L914.5,58.1 L914.5,60.3 L918.8,60.3 L919.0,58.7 L919.2,60.3 L926.5,60.3 L926.5,62.5 L939.5,62.5 L939.5,64.7 L945.8,64.7 L946.0,64.8 L946.2,64.7 L949.5,64.7 L949.5,66.9 L956.5,66.9 L956.5,69.1 L959.8,69.1 L960.0,69.2 L960.2,69.1 L966.5,69.1 L966.5,71.3 L971.5,71.3 L971.5,73.5 L980.5,73.5 L980.5,75.7 L981.8,75.7 L982.0,77.5 L982.2,75.7 L985.8,75.7 L986.0,74.8 L986.2,75.7 L987.5,75.7 L987.5,77.9 L999.8,77.9 L1000.0,79.7 L1000.2,77.9 L1000.5,77.9 L1000.5,80.1 L1001.5,80.1 L1001.5,77.9 L1002.5,77.9 L1002.5,80.1 L1010.8,80.1 L1011.0,79.2 L1011.2,80.1 L1015.0,80.1" fill="none" stroke="#000" stroke-width="1.1" stroke-linejoin="round" />
<path d="M740.3,171.9 L740.7,176.7 L741.1,177.7 L741.5,173.6 L741.9,174.1 L742.3,181.5 L742.7,173.1 L743.1,176.8 L743.5,173.8 L743.9,178.3 L744.0,193.0 L744.2,177.8 L744.3,180.9 L744.7,180.8 L745.1,173.1 L745.5,174.3 L745.9,174.1 L746.3,174.7 L746.7,177.3 L747.1,176.1 L747.5,173.5 L747.9,173.9 L748.3,185.5 L748.7,171.1 L749.0,207.0 L749.2,180.7 L749.1,172.0 L749.5,172.4 L749.9,174.9 L750.3,174.9 L750.7,175.9 L751.1,173.8 L751.5,174.9 L751.9,177.5 L752.0,190.0 L752.2,178.1 L752.3,177.7 L752.7,180.0 L753.1,176.8 L753.5,184.1 L753.9,169.5 L754.3,175.0 L754.7,177.3 L755.1,175.8 L755.5,177.6 L755.9,177.5 L756.3,181.4 L756.7,175.8 L757.1,175.9 L757.5,172.7 L757.9,176.8 L758.3,174.9 L758.7,177.7 L759.1,175.2 L759.5,177.5 L759.9,174.5 L760.3,171.7 L760.7,174.0 L761.1,173.8 L761.5,179.8 L761.9,175.6 L762.3,177.5 L762.7,179.8 L763.1,178.3 L763.5,175.4 L763.9,177.2 L764.3,169.5 L764.7,178.9 L765.1,173.3 L765.5,169.6 L765.9,178.7 L766.0,202.0 L766.2,175.7 L766.3,170.2 L766.7,178.6 L767.1,180.9 L767.5,176.3 L767.9,173.9 L768.3,178.3 L768.7,183.2 L769.0,196.0 L769.2,174.8 L769.1,175.0 L769.5,173.7 L769.9,176.7 L770.3,176.5 L770.7,178.2 L771.1,174.8 L771.5,177.7 L771.9,183.7 L772.3,171.1 L772.7,175.2 L773.1,175.7 L773.5,174.8 L773.9,175.3 L774.3,175.2 L774.7,177.9 L775.1,175.1 L775.5,176.5 L775.9,176.0 L776.3,179.0 L776.7,169.3 L777.1,178.0 L777.5,170.6 L777.9,173.0 L778.3,175.2 L778.7,171.4 L779.1,176.9 L779.5,176.1 L779.9,178.4 L780.3,178.7 L780.7,170.9 L780.7,200.0 L780.9,178.8 L781.1,175.8 L781.5,176.9 L781.9,171.9 L782.6,175.2 L783.2,172.4 L783.8,173.6 L784.4,170.7 L785.0,165.4 L785.6,170.5 L786.2,167.3 L786.8,170.4 L787.4,170.8 L788.0,172.0 L788.6,168.1 L789.2,166.1 L789.8,167.4 L790.4,166.8 L791.0,160.5 L791.6,162.9 L792.2,160.9 L792.8,164.0 L793.4,161.5 L794.0,161.1 L794.6,161.3 L795.2,158.7 L795.8,151.7 L796.4,151.2 L797.0,149.4 L797.6,145.7 L798.2,142.6 L798.8,140.3 L799.4,136.0 L800.0,130.8 L800.6,126.7 L801.2,123.9 L801.8,119.1 L802.4,115.0 L803.0,112.6 L803.6,109.5 L804.2,103.9 L804.8,100.7 L805.4,97.4 L806.0,92.1 L806.6,87.8 L807.2,82.9 L807.8,79.0 L808.4,69.7 L809.0,65.4 L809.6,58.9 L810.2,55.3 L810.8,53.4 L811.4,50.9 L812.0,50.2 L812.6,48.5 L813.2,47.0 L813.8,46.1 L814.4,46.0 L815.0,45.4 L815.6,43.9 L816.2,44.7 L816.8,44.5 L817.4,43.9" fill="none" stroke="#ff0000" stroke-width="0.9" stroke-linejoin="round" />
<path d="M817.4,43.9 L818.5,42.7 L823.5,42.7 L823.5,44.9 L824.5,44.9 L824.5,42.7 L825.5,42.7 L825.5,44.9 L826.5,44.9 L826.5,42.7 L827.5,42.7 L827.5,44.9 L829.5,44.9 L829.5,42.7 L830.5,42.7 L830.5,44.9 L832.8,44.9 L833.0,44.4 L833.2,44.9 L843.5,44.9 L843.5,47.1 L845.5,47.1 L845.5,44.9 L846.5,44.9 L846.5,47.1 L851.8,47.1 L852.0,47.0 L852.2,47.1 L857.8,47.1 L858.0,47.5 L858.2,47.1 L858.8,47.1 L859.0,49.5 L859.2,47.1 L863.5,47.1 L863.5,49.3 L864.5,49.3 L864.5,47.1 L866.8,47.1 L867.0,47.6 L867.2,47.1 L867.5,47.1 L867.5,49.3 L879.8,49.3 L880.0,50.0 L880.2,49.3 L882.8,49.3 L883.0,50.6 L883.2,49.3 L893.5,49.3 L893.5,51.5 L894.5,51.5 L894.5,49.3 L895.5,49.3 L895.5,51.5 L899.8,51.5 L900.0,52.8 L900.2,51.5 L901.8,51.5 L902.0,53.7 L902.2,51.5 L917.5,51.5 L917.5,53.7 L919.5,53.7 L919.5,51.5 L920.5,51.5 L920.5,53.7 L929.8,53.7 L930.0,52.2 L930.2,53.7 L930.8,53.7 L931.0,54.9 L931.2,53.7 L931.8,53.7 L932.0,54.0 L932.2,53.7 L932.8,53.7 L933.0,54.2 L933.2,53.7 L934.5,53.7 L934.5,55.9 L938.5,55.9 L938.5,53.7 L938.8,53.7 L939.0,53.7 L939.2,53.7 L939.5,53.7 L939.5,55.9 L943.5,55.9 L943.5,58.1 L948.8,58.1 L949.0,59.2 L949.2,58.1 L958.5,58.1 L958.5,60.3 L967.8,60.3 L968.0,59.9 L968.2,60.3 L968.5,60.3 L968.5,62.5 L969.5,62.5 L969.5,60.3 L970.5,60.3 L970.5,62.5 L973.5,62.5 L973.5,60.3 L974.5,60.3 L974.5,62.5 L985.5,62.5 L985.5,64.7 L986.8,64.7 L987.0,65.2 L987.2,64.7 L999.5,64.7 L999.5,66.9 L1012.5,66.9 L1012.5,69.1 L1015.0,69.1" fill="none" stroke="#ff0000" stroke-width="1.2" stroke-linejoin="round" />
<path d="M740.5,94.0 L741.0,126.0 L741.5,146.6 L741.8,157.4 L742.2,155.5 L742.5,161.4 L742.8,147.8 L743.2,158.5 L743.5,155.2 L743.8,142.4 L744.1,161.9 L744.5,143.7 L744.8,134.1 L745.0,203.0 L745.2,144.9 L745.1,139.3 L745.5,142.5 L745.8,156.8 L746.1,147.0 L746.5,165.8 L746.8,145.5 L747.1,154.7 L747.4,148.9 L747.8,130.4 L748.1,150.1 L748.4,153.6 L748.8,159.7 L749.0,190.0 L749.2,142.3 L749.1,160.3 L749.4,162.4 L749.8,140.9 L750.1,153.8 L750.4,163.3 L750.7,131.6 L751.1,155.3 L751.4,128.5 L751.7,152.5 L752.1,166.3 L752.4,147.2 L752.7,156.9 L753.1,133.3 L753.4,144.1 L753.7,145.8 L754.0,159.7 L754.4,148.3 L754.7,159.4 L755.0,150.4 L755.4,144.0 L755.7,152.8 L756.0,154.1 L756.4,148.6 L756.7,159.7 L757.0,143.1 L757.3,153.8 L757.7,158.1 L758.0,195.0 L758.2,147.8 L758.0,151.6 L758.3,151.3 L758.7,136.5 L759.0,168.1 L759.3,148.4 L759.7,157.7 L760.0,130.6 L760.3,163.1 L760.6,145.1 L761.0,139.6 L761.3,148.1 L761.6,159.4 L762.0,131.1 L762.3,159.9 L762.6,135.3 L763.0,161.1 L763.3,153.1 L763.6,162.2 L763.9,158.1 L764.3,140.9 L764.6,145.8 L764.9,156.0 L765.3,146.6 L765.6,150.3 L765.9,139.5 L766.3,158.1 L766.6,174.2 L766.9,162.3 L767.2,155.8 L767.6,139.9 L767.9,149.7 L768.2,164.5 L768.6,151.3 L768.9,158.7 L769.2,147.6 L769.6,147.6 L769.9,153.6 L770.2,147.6 L770.5,146.5 L770.9,153.8 L771.2,149.2 L771.5,133.3 L771.9,157.4 L772.2,164.7 L772.5,153.8 L772.9,147.3 L773.2,141.4 L773.5,144.1 L773.8,149.6 L774.2,159.2 L774.5,151.2 L774.8,149.5 L775.2,141.5 L775.5,151.6 L775.8,143.8 L776.2,166.6 L776.5,154.3 L776.8,150.3 L777.1,166.6 L777.5,166.6 L777.8,151.7 L778.0,206.0 L778.2,146.3 L778.1,161.9 L778.5,147.5 L778.8,157.4 L779.1,142.3 L779.5,147.7 L779.8,148.8 L780.1,143.4 L780.4,141.7 L780.8,159.9 L781.1,147.8 L781.4,162.5 L781.8,157.0 L782.1,152.9 L782.4,156.5 L782.8,148.6 L783.0,185.0 L783.2,151.6 L783.1,154.1 L783.4,153.4 L783.7,145.6 L784.1,158.8 L784.4,154.6 L784.7,164.8 L785.1,147.0 L785.4,172.5 L785.7,153.0 L786.1,160.9 L786.4,156.7 L786.7,138.9 L787.0,149.6 L787.4,162.0 L787.7,164.2 L788.0,150.6 L788.4,165.5 L788.5,206.0 L788.7,157.4 L788.7,147.8 L789.0,164.4 L789.4,152.7 L789.7,140.6 L790.0,157.6 L790.3,153.3 L790.7,148.8 L791.0,142.0 L791.3,147.7 L791.7,162.4 L792.0,147.6 L792.0,182.0 L792.2,147.3 L792.3,143.4 L792.7,161.0 L793.0,165.8 L793.3,142.5 L793.6,146.9 L794.0,157.9 L794.3,160.5 L794.6,147.8 L795.0,155.3 L795.3,166.8 L795.6,146.8 L796.0,149.3 L796.0,218.0 L796.2,152.8 L796.3,156.4 L796.6,152.0 L796.9,142.0 L797.3,151.9 L797.6,159.5 L797.9,143.1 L798.3,144.7 L798.6,146.5 L798.9,167.0 L799.3,150.3 L799.6,143.5 L799.9,163.5 L800.0,184.0 L800.2,156.7 L800.2,149.3 L800.6,154.8 L800.9,153.8 L801.2,157.6 L801.6,151.1 L801.9,154.0 L802.2,147.3 L802.6,153.0 L802.9,156.9 L803.2,153.6 L803.5,149.0 L803.9,137.9 L804.2,154.8 L804.5,151.1 L804.9,152.0 L805.0,188.0 L805.2,159.7 L805.2,153.7 L805.5,151.1 L805.9,155.3 L806.2,138.3 L806.5,149.9 L806.8,150.7 L807.2,156.2 L807.5,155.7 L807.8,160.4 L808.2,152.7 L808.5,148.8 L808.8,152.9 L809.2,140.0 L809.5,144.7 L809.8,149.3 L810.1,161.3 L810.5,153.9 L810.8,141.8 L811.5,148.5 L811.9,141.5 L812.3,138.4 L812.7,128.4 L813.1,145.9 L813.5,132.6 L813.9,139.2 L814.3,130.7 L814.7,141.2 L815.0,218.0 L815.2,131.7 L815.1,133.9 L815.5,136.8 L815.9,126.2 L816.3,125.2 L816.7,125.1 L817.1,126.2 L817.5,129.5 L817.9,126.1 L818.3,123.9 L818.7,129.3 L819.1,122.9 L819.5,110.8 L819.9,130.7 L820.3,102.3 L820.7,133.3 L821.1,101.0 L821.5,100.1 L821.9,103.4 L822.3,115.5 L822.7,97.2 L823.1,109.2 L823.5,108.5 L823.9,91.2 L824.3,92.5 L824.7,95.2 L825.1,90.4 L825.5,78.7 L825.9,65.2 L826.0,102.0 L826.2,78.2 L826.3,70.5 L826.7,77.0 L827.1,74.2 L827.5,65.7 L827.9,60.6 L828.3,65.2 L828.7,66.1 L829.0,95.0 L829.2,66.3 L829.1,65.0 L829.5,64.8 L829.9,63.5 L830.3,57.0 L830.7,62.8 L831.1,52.6 L831.5,58.6 L831.9,55.4 L832.3,47.8 L832.7,60.0 L833.1,61.4 L833.5,56.9 L833.9,45.7 L834.3,41.4 L834.7,52.9 L835.1,50.1 L835.5,45.2 L835.9,43.9" fill="none" stroke="#0000ff" stroke-width="0.9" stroke-linejoin="round" />
<path d="M835.9,43.9 L836.5,47.1 L840.8,47.1 L841.0,45.8 L841.2,47.1 L841.5,47.1 L841.5,49.3 L842.5,49.3 L842.5,47.1 L844.5,47.1 L844.5,49.3 L852.5,49.3 L852.5,51.5 L856.5,51.5 L856.5,49.3 L857.5,49.3 L857.5,51.5 L857.8,51.5 L858.0,51.4 L858.2,51.5 L867.8,51.5 L868.0,50.0 L868.2,51.5 L868.5,51.5 L868.5,53.7 L869.5,53.7 L869.5,51.5 L871.5,51.5 L871.5,53.7 L885.5,53.7 L885.5,55.9 L886.5,55.9 L886.5,53.7 L887.5,53.7 L887.5,55.9 L892.8,55.9 L893.0,55.0 L893.2,55.9 L893.8,55.9 L894.0,56.3 L894.2,55.9 L896.8,55.9 L897.0,57.2 L897.2,55.9 L902.5,55.9 L902.5,58.1 L903.5,58.1 L903.5,55.9 L904.5,55.9 L904.5,58.1 L911.8,58.1 L912.0,58.8 L912.2,58.1 L915.5,58.1 L915.5,60.3 L929.5,60.3 L929.5,62.5 L930.5,62.5 L930.5,60.3 L931.5,60.3 L931.5,62.5 L934.8,62.5 L935.0,61.0 L935.2,62.5 L935.8,62.5 L936.0,61.8 L936.2,62.5 L937.8,62.5 L938.0,61.1 L938.2,62.5 L949.5,62.5 L949.5,64.7 L959.8,64.7 L960.0,66.4 L960.2,64.7 L964.5,64.7 L964.5,66.9 L966.5,66.9 L966.5,64.7 L967.5,64.7 L967.5,66.9 L968.8,66.9 L969.0,65.5 L969.2,66.9 L969.8,66.9 L970.0,68.1 L970.2,66.9 L980.5,66.9 L980.5,69.1 L983.8,69.1 L984.0,69.1 L984.2,69.1 L993.5,69.1 L993.5,71.3 L999.8,71.3 L1000.0,72.3 L1000.2,71.3 L1005.5,71.3 L1005.5,73.5 L1010.8,73.5 L1011.0,72.9 L1011.2,73.5 L1014.5,73.5 L1014.5,75.7 L1015.0,75.7" fill="none" stroke="#0000ff" stroke-width="1.2" stroke-linejoin="round" />
</g>
<line x1="915" y1="141.3" x2="952.8" y2="141.3" stroke="#000" stroke-width="1.15"/>
<text transform="translate(958.40,146.00) scale(1.0,1.07)" font-size="14.2" stroke="#000" stroke-width="0.65" font-family="Liberation Sans, sans-serif">ButOx</text>
<text transform="translate(920.5,164.3) scale(1,1.07)" font-size="14.3" font-family="Liberation Sans, sans-serif"><tspan font-weight="bold">75 wt%</tspan><tspan dx="0.7" font-size="14.6" stroke="#000" stroke-width="0.3"> EtOH</tspan></text>
<line x1="915" y1="178.7" x2="952.8" y2="178.7" stroke="#ff0000" stroke-width="1.15"/>
<text transform="translate(957.4,182.8) scale(1,1.07)" font-size="14.2" stroke="#000" stroke-width="0.65" font-family="Liberation Sans, sans-serif"><tspan font-size="14.3" stroke-width="0.35">i-</tspan><tspan dx="1.0">ButOx</tspan></text>
<text transform="translate(920.5,201) scale(1,1.07)" font-size="14.3" font-family="Liberation Sans, sans-serif"><tspan font-weight="bold">75 wt%</tspan><tspan dx="0.7" font-size="14.6" stroke="#000" stroke-width="0.3"> EtOH</tspan></text>
<line x1="915" y1="215.6" x2="952.8" y2="215.6" stroke="#0000ff" stroke-width="1.15"/>
<text transform="translate(957.4,219.3) scale(1,1.07)" font-size="14.2" stroke="#000" stroke-width="0.65" font-family="Liberation Sans, sans-serif"><tspan font-size="14.3" stroke-width="0.35">i-</tspan><tspan dx="1.0">ButOx</tspan></text>
<text transform="translate(920.5,238.4) scale(1,1.07)" font-size="14.3" font-family="Liberation Sans, sans-serif"><tspan font-weight="bold">85 wt%</tspan><tspan dx="0.7" font-size="14.6" stroke="#000" stroke-width="0.3"> EtOH</tspan></text>
<text transform="translate(746.50,19.10) scale(1.0,1.07)" font-size="22.25" font-family="Liberation Sans, sans-serif">Dissolution upon heating</text>
<text transform="translate(878.30,296.70) scale(1.0,1.04)" text-anchor="middle" font-size="17" font-family="Liberation Sans, sans-serif">Temperature (°<tspan dx="1.3">C</tspan>)</text>
<text transform="translate(697.00,151.00) rotate(-90) scale(1.0,1.07)" text-anchor="middle" font-size="16.9" stroke="#000" stroke-width="0.35" font-family="Liberation Sans, sans-serif">Transmittance (%)</text>
<defs><clipPath id="c1"><rect x="56" y="27.5" width="275" height="224"/></clipPath><clipPath id="c2"><rect x="395" y="27.5" width="275" height="224"/></clipPath><clipPath id="c3"><rect x="740" y="27.5" width="275" height="224"/></clipPath></defs>
</svg></body></html>
